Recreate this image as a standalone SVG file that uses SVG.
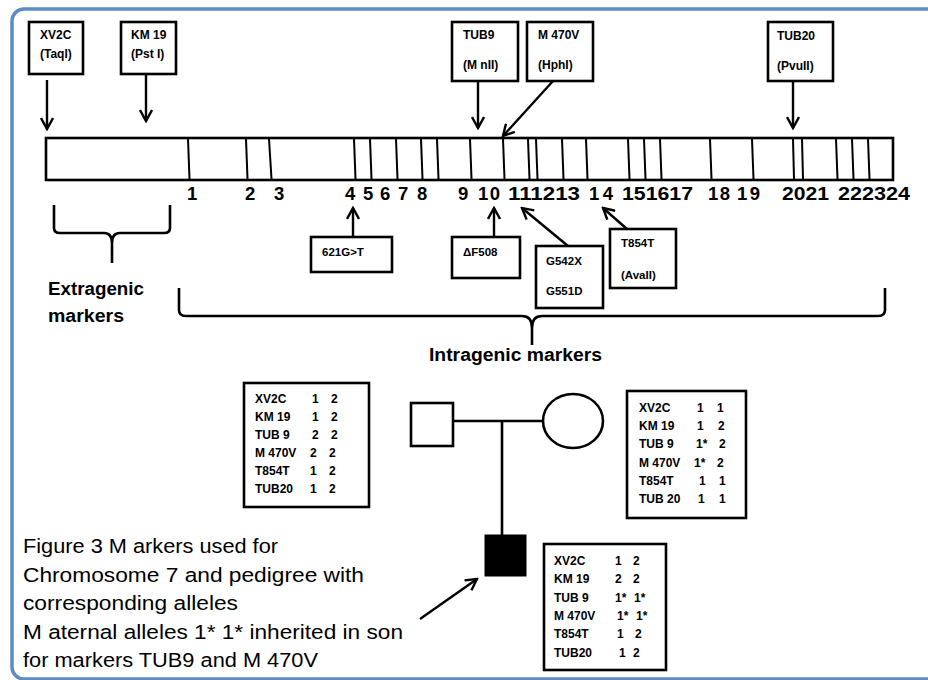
<svg xmlns="http://www.w3.org/2000/svg" width="928" height="680" viewBox="0 0 928 680">
<style>
.box{fill:#fff;stroke:#000;stroke-width:2.6}
.ln{fill:none;stroke:#000;stroke-width:2.6}
.band{stroke:#000;stroke-width:2}
.arr{fill:none;stroke:#000;stroke-width:2.4;marker-end:url(#ah)}
.t12{font-family:"Liberation Sans",Arial,sans-serif;font-weight:bold;font-size:12px;fill:#000}
.t11{font-family:"Liberation Sans",Arial,sans-serif;font-weight:bold;font-size:11.5px;fill:#000}
.num{font-family:"Liberation Sans",Arial,sans-serif;font-weight:bold;font-size:18.5px;fill:#000}
.lbl{font-family:"Liberation Sans",Arial,sans-serif;font-weight:bold;font-size:18px;fill:#000}
.cap{font-family:"Liberation Sans",Arial,sans-serif;font-size:20px;fill:#000}
</style>
<defs>
<marker id="ah" viewBox="0 0 14 14" refX="12" refY="7" markerWidth="14" markerHeight="14" markerUnits="userSpaceOnUse" orient="auto">
<path d="M1,1 L12,7 L1,13" fill="none" stroke="#000" stroke-width="2.4"/>
</marker>
</defs>
<rect x="0" y="0" width="928" height="680" fill="#fff"/>
<rect x="12" y="9" width="950" height="670" rx="12" ry="12" fill="none" stroke="#5b8cc4" stroke-width="3.5"/>

<g id="chromosome">
<rect class="box" x="46" y="138" width="847" height="42"/>
<g class="band">
<line x1="188" y1="139" x2="189.5" y2="179"/>
<line x1="246" y1="139" x2="247.5" y2="179"/>
<line x1="269" y1="139" x2="271.5" y2="179"/>
<line x1="354" y1="139" x2="355.5" y2="179"/>
<line x1="370" y1="139" x2="371.5" y2="179"/>
<line x1="396" y1="139" x2="397.5" y2="179"/>
<line x1="421" y1="139" x2="422.5" y2="179"/>
<line x1="437" y1="139" x2="438.5" y2="179"/>
<line x1="470" y1="139" x2="471.5" y2="179"/>
<line x1="503" y1="139" x2="504.5" y2="179"/>
<line x1="528" y1="139" x2="529.5" y2="179"/>
<line x1="536" y1="139" x2="537.5" y2="179"/>
<line x1="562" y1="139" x2="563.5" y2="179"/>
<line x1="586" y1="139" x2="587.5" y2="179"/>
<line x1="628" y1="139" x2="629.5" y2="179"/>
<line x1="644" y1="139" x2="645.5" y2="179"/>
<line x1="660" y1="139" x2="661.5" y2="179"/>
<line x1="710" y1="139" x2="711.5" y2="179"/>
<line x1="752" y1="139" x2="753.5" y2="179"/>
<line x1="793" y1="139" x2="794" y2="179"/>
<line x1="802" y1="139" x2="803" y2="179"/>
<line x1="836" y1="139" x2="837.5" y2="179"/>
<line x1="852" y1="139" x2="853.5" y2="179"/>
<line x1="868" y1="139" x2="869.5" y2="179"/>
</g>
<g class="num">
<text x="187" y="200">1</text>
<text x="245" y="200">2</text>
<text x="274" y="200">3</text>
<text x="345" y="200">4</text>
<text x="363" y="200">5</text>
<text x="380" y="200">6</text>
<text x="398" y="200">7</text>
<text x="417" y="200">8</text>
<text x="458" y="200">9</text>
<text x="478" y="200" textLength="22">10</text>
<text x="508" y="200" textLength="72" lengthAdjust="spacingAndGlyphs">111213</text>
<text x="589" y="200" textLength="24">14</text>
<text x="622" y="200" textLength="71" lengthAdjust="spacingAndGlyphs">151617</text>
<text x="708" y="200" textLength="22">18</text>
<text x="737" y="200" textLength="23">19</text>
<text x="782" y="200" textLength="47" lengthAdjust="spacingAndGlyphs">2021</text>
<text x="838" y="200" textLength="72" lengthAdjust="spacingAndGlyphs">222324</text>
</g>
</g>

<g id="m-xv2c">
<rect class="box" x="29" y="22" width="54" height="52"/>
<text class="t12" x="40" y="39">XV2C</text>
<text class="t12" x="40" y="58">(TaqI)</text>
</g>
<g id="m-km19">
<rect class="box" x="121" y="22" width="55" height="52"/>
<text class="t12" x="131" y="39">KM 19</text>
<text class="t12" x="131" y="58">(Pst I)</text>
</g>
<g id="m-tub9">
<rect class="box" x="452" y="22" width="66" height="59"/>
<text class="t12" x="463" y="39">TUB9</text>
<text class="t12" x="463" y="69">(M nII)</text>
</g>
<g id="m-m470v">
<rect class="box" x="527" y="22" width="66" height="59"/>
<text class="t12" x="538" y="39">M 470V</text>
<text class="t12" x="538" y="69">(HphI)</text>
</g>
<g id="m-tub20">
<rect class="box" x="768" y="22" width="65" height="59"/>
<text class="t12" x="777" y="40">TUB20</text>
<text class="t12" x="777" y="70">(PvuII)</text>
</g>

<g id="m-621">
<rect class="box" x="311" y="237" width="81" height="35"/>
<text class="t11" x="322" y="256">621G&gt;T</text>
</g>
<g id="m-df508">
<rect class="box" x="452" y="237" width="68" height="41"/>
<text class="t11" x="463" y="256">ΔF508</text>
</g>
<g id="m-g542x">
<rect class="box" x="536" y="246" width="67" height="62"/>
<text class="t11" x="546" y="265">G542X</text>
<text class="t11" x="546" y="295">G551D</text>
</g>
<g id="m-t854t">
<rect class="box" x="610" y="229" width="66" height="59"/>
<text class="t11" x="621" y="247">T854T</text>
<text class="t11" x="621" y="279">(AvaII)</text>
</g>

<g id="connectors">
<line class="arr" x1="47" y1="80" x2="47" y2="129"/>
<line class="arr" x1="146" y1="74" x2="146" y2="121"/>
<line class="arr" x1="478" y1="81" x2="478" y2="128"/>
<line class="arr" x1="553" y1="81" x2="503" y2="136"/>
<line class="arr" x1="793" y1="81" x2="793" y2="128"/>
<line class="arr" x1="353" y1="237" x2="353" y2="208"/>
<line class="arr" x1="494" y1="237" x2="494" y2="208"/>
<line class="arr" x1="568" y1="246" x2="522" y2="208"/>
<line class="arr" x1="627" y1="229" x2="603" y2="208"/>
<line class="arr" x1="420" y1="619" x2="477" y2="579"/>
<line class="ln" x1="453" y1="421" x2="544" y2="421"/>
<line class="ln" x1="502" y1="421" x2="502" y2="535"/>
</g>

<g id="brace-extragenic">
<path class="ln" d="M54,205 V228 Q54,233 60,233 H104 Q112,233 112,243 V263 M112,243 Q112,233 120,233 H164 Q170,233 170,228 V205"/>
<text class="lbl" x="48" y="295" textLength="96" lengthAdjust="spacingAndGlyphs">Extragenic</text>
<text class="lbl" x="48" y="322" textLength="76" lengthAdjust="spacingAndGlyphs">markers</text>
</g>
<g id="brace-intragenic">
<path class="ln" d="M179,288 V310 Q179,316 186,316 H522 Q532,316 532,328 V345 M532,328 Q532,316 542,316 H878 Q885,316 885,310 V288"/>
<text class="lbl" x="429" y="361" textLength="173" lengthAdjust="spacingAndGlyphs">Intragenic markers</text>
</g>

<g id="father">
<rect class="box" x="411" y="403" width="42" height="43"/>
</g>
<g id="mother">
<ellipse class="box" cx="573" cy="421" rx="30" ry="27"/>
</g>
<g id="son">
<rect x="485" y="535" width="41" height="41" fill="#000" stroke="#000" stroke-width="1"/>
</g>

<g id="father-alleles">
<rect class="box" x="244" y="383" width="125" height="124"/>
<g class="t12">
<text x="255" y="403">XV2C</text><text x="312" y="403">1</text><text x="331" y="403">2</text>
<text x="255" y="421">KM 19</text><text x="312" y="421">1</text><text x="331" y="421">2</text>
<text x="255" y="439">TUB 9</text><text x="312" y="439">2</text><text x="331" y="439">2</text>
<text x="255" y="457">M 470V</text><text x="310" y="457">2</text><text x="329" y="457">2</text>
<text x="255" y="475">T854T</text><text x="310" y="475">1</text><text x="329" y="475">2</text>
<text x="255" y="493">TUB20</text><text x="310" y="493">1</text><text x="329" y="493">2</text>
</g>
</g>

<g id="mother-alleles">
<rect class="box" x="627" y="391" width="119" height="127"/>
<g class="t12">
<text x="639" y="412">XV2C</text><text x="697" y="412">1</text><text x="717" y="412">1</text>
<text x="639" y="430">KM 19</text><text x="697" y="430">1</text><text x="718" y="430">2</text>
<text x="639" y="448">TUB 9</text><text x="696" y="448">1*</text><text x="719" y="448">2</text>
<text x="639" y="467">M 470V</text><text x="694" y="467">1*</text><text x="717" y="467">2</text>
<text x="639" y="485">T854T</text><text x="699" y="485">1</text><text x="719" y="485">1</text>
<text x="639" y="503">TUB 20</text><text x="698" y="503">1</text><text x="719" y="503">1</text>
</g>
</g>

<g id="son-alleles">
<rect class="box" x="544" y="544" width="122" height="126"/>
<g class="t12">
<text x="554" y="565">XV2C</text><text x="615" y="565">1</text><text x="633" y="565">2</text>
<text x="554" y="583">KM 19</text><text x="615" y="583">2</text><text x="633" y="583">2</text>
<text x="554" y="602">TUB 9</text><text x="615" y="602">1*</text><text x="634" y="602">1*</text>
<text x="554" y="620">M 470V</text><text x="617" y="620">1*</text><text x="636" y="620">1*</text>
<text x="554" y="638">T854T</text><text x="617" y="638">1</text><text x="635" y="638">2</text>
<text x="554" y="657">TUB20</text><text x="619" y="657">1</text><text x="633" y="657">2</text>
</g>
</g>

<g id="caption" class="cap">
<text x="23" y="553" textLength="255" lengthAdjust="spacingAndGlyphs">Figure 3 M arkers used for</text>
<text x="23" y="582" textLength="341" lengthAdjust="spacingAndGlyphs">Chromosome 7 and pedigree with</text>
<text x="23" y="610" textLength="215" lengthAdjust="spacingAndGlyphs">corresponding alleles</text>
<text x="23" y="639" textLength="380" lengthAdjust="spacingAndGlyphs">M aternal alleles 1* 1*  inherited in son</text>
<text x="23" y="667" textLength="295" lengthAdjust="spacingAndGlyphs">for markers TUB9 and M 470V</text>
</g>
</svg>
